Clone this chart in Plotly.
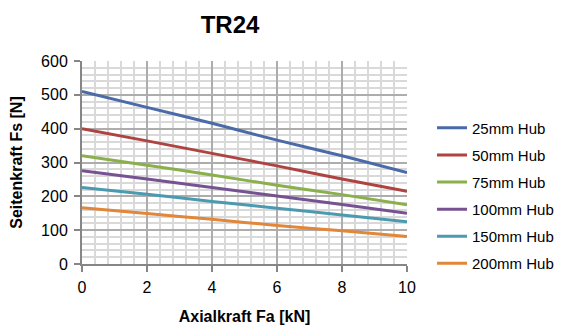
import plotly.graph_objects as go

axial_kn = [0, 2, 4, 6, 8, 10]
series_names = ["25mm Hub", "50mm Hub", "75mm Hub", "100mm Hub", "150mm Hub", "200mm Hub"]
hub_25 = [510, 463, 416, 366, 320, 270]
hub_50 = [400, 364, 327, 290, 251, 215]
hub_75 = [320, 292, 263, 233, 205, 175]
hub_100 = [276, 251, 226, 201, 176, 150]
hub_150 = [226, 206, 185, 165, 145, 125]
hub_200 = [166, 149, 132, 114, 98, 81]
series_values = [hub_25, hub_50, hub_75, hub_100, hub_150, hub_200]
colors = ["#4A6AA8", "#AE4441", "#8AB04C", "#775293", "#4B9AB0", "#E0873A"]

x_ticks = [0, 2, 4, 6, 8, 10]
y_ticks = [0, 100, 200, 300, 400, 500, 600]

FONT = "Liberation Sans, Arial, sans-serif"

fig = go.Figure()
for name, vals, col in zip(series_names, series_values, colors):
    fig.add_trace(go.Scatter(
        x=axial_kn, y=vals, name=name, mode="lines",
        line=dict(color=col, width=3, shape="spline", smoothing=0.6),
        legendgroup=name,
    ))

fig.update_layout(
    width=564, height=327,
    margin=dict(l=74, r=165, t=53, b=71, autoexpand=False),
    paper_bgcolor="white", plot_bgcolor="white",
    font=dict(family=FONT, size=16, color="black"),
    title=dict(text="<b>TR24</b>", x=222/564, xanchor="center", xref="container",
               y=1 - 17/327, yanchor="middle", yref="container",
               font=dict(family=FONT, size=24, color="black")),
    showlegend=True,
    legend=dict(x=1.077, xanchor="left", y=0.337, yanchor="middle",
                font=dict(family=FONT, size=15, color="black"),
                tracegroupgap=4.6, itemwidth=30, bgcolor="rgba(0,0,0,0)"),
)

fig.update_xaxes(
    range=[0, 10], tickvals=x_ticks, ticktext=[str(v) for v in x_ticks],
    showgrid=True, gridcolor="#ADADAD", gridwidth=2,
    minor=dict(dtick=0.4, tick0=0, showgrid=True, gridcolor="#D9D9D9", gridwidth=2),
    showline=True, linecolor="#868686", linewidth=2,
    ticks="outside", ticklen=6, tickcolor="#868686", tickwidth=2,
    ticklabelstandoff=2,
    tickfont=dict(family=FONT, size=16), zeroline=False, automargin=False,
    title=dict(text="<b>Axialkraft Fa [kN]</b>", font=dict(family=FONT, size=16), standoff=16),
)
fig.update_yaxes(
    range=[0, 600], tickvals=y_ticks, ticktext=[str(v) for v in y_ticks],
    showgrid=True, gridcolor="#ADADAD", gridwidth=2,
    minor=dict(dtick=20, tick0=0, showgrid=True, gridcolor="#D9D9D9", gridwidth=2),
    showline=True, linecolor="#868686", linewidth=2,
    ticks="outside", ticklen=6, tickcolor="#868686", tickwidth=2,
    ticklabelstandoff=3,
    tickfont=dict(family=FONT, size=16), zeroline=False, automargin=False,
    title=dict(text="<b>Seitenkraft Fs [N]</b>", font=dict(family=FONT, size=16), standoff=14),
)

fig.write_html("out.html")
